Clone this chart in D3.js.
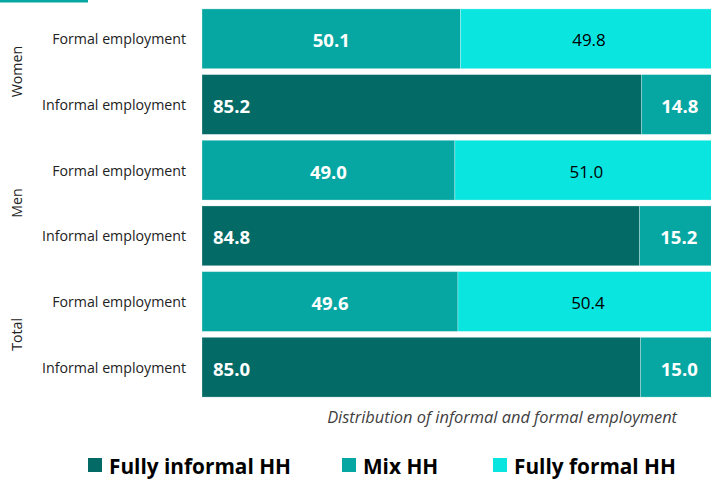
<!DOCTYPE html>
<html>
<head>
<meta charset="utf-8">
<script src="https://cdn.jsdelivr.net/npm/d3@7"></script>
<style>
  body { margin: 0; background: #fff; }
  svg { display: block; font-family: "Open Sans", sans-serif; }
</style>
</head>
<body>
<div id="chart"></div>
<script>
const groups = ["Women", "Men", "Total"];
const employmentTypes = ["Formal employment", "Informal employment"];
const seriesNames = ["Fully informal HH", "Mix HH", "Fully formal HH"];
// one value per row: Women formal, Women informal, Men formal, Men informal, Total formal, Total informal
const fullyInformal = [0, 85.2, 0, 84.8, 0, 85.0];
const mixHH = [50.1, 14.8, 49.0, 15.2, 49.6, 15.0];
const fullyFormal = [49.8, 0, 51.0, 0, 50.4, 0];
const seriesColors = ["#036a66", "#06a7a2", "#0be5e0"];
const axisTitle = "Distribution of informal and formal employment";

const width = 711, height = 479;

const rows = [];
groups.forEach((g, gi) => {
    employmentTypes.forEach((t, ti) => {
        const i = gi * employmentTypes.length + ti;
        rows.push({ key: g + "|" + t, group: g, type: t, values: [fullyInformal[i], mixHH[i], fullyFormal[i]] });
    });
});

const svg = d3.select("#chart").append("svg").attr("width", width).attr("height", height);

// leftover piece of the cropped title underline
svg.append("rect").attr("x", 0).attr("y", 0).attr("width", 88).attr("height", 2.5).attr("fill", "#06a7a2");

const x = d3.scaleLinear().domain([0, 100]).range([202, 718]);
const y = d3.scaleBand().domain(rows.map(d => d.key)).range([3, 403]).padding(0.09);

const stacked = rows.flatMap(r => {
    let acc = 0;
    return r.values.map((v, si) => {
        const seg = { row: r, series: si, v, x0: acc, x1: acc + v };
        acc += v;
        return seg;
    });
}).filter(d => d.v > 0);

svg.append("g").selectAll("rect").data(stacked).join("rect")
    .attr("x", d => x(d.x0))
    .attr("y", d => y(d.row.key))
    .attr("width", d => x(d.x1) - x(d.x0))
    .attr("height", y.bandwidth())
    .attr("fill", d => seriesColors[d.series])
    .attr("stroke", "#ffffff").attr("stroke-opacity", 0.35).attr("stroke-width", 0.8);

svg.append("g").selectAll("text").data(stacked).join("text")
    .attr("x", d => d.series === 0 ? x(d.x0) + 11 : (x(d.x0) + x(d.x1)) / 2)
    .attr("y", d => y(d.row.key) + y.bandwidth() / 2 + 1)
    .attr("text-anchor", d => d.series === 0 ? "start" : "middle")
    .attr("dominant-baseline", "central")
    .style("font-size", d => d.series === 2 ? "17px" : "18.5px")
    .style("font-weight", d => d.series === 2 ? 400 : 700)
    .style("fill", d => d.series === 2 ? "#000" : "#fff")
    .text(d => d3.format(".1f")(d.v));

// row labels
svg.append("g").selectAll("text").data(rows).join("text")
    .attr("x", 186)
    .attr("y", d => y(d.key) + y.bandwidth() / 2)
    .attr("text-anchor", "end")
    .attr("dominant-baseline", "central")
    .style("font-size", "14.2px")
    .style("fill", "#222")
    .text(d => d.type);

// group labels, rotated
svg.append("g").selectAll("text").data(groups).join("text")
    .attr("transform", g => {
        const keys = employmentTypes.map(t => g + "|" + t);
        const cy = (y(keys[0]) + y(keys[keys.length - 1]) + y.bandwidth()) / 2;
        return `translate(16,${cy}) rotate(-90)`;
    })
    .attr("text-anchor", "middle")
    .attr("dominant-baseline", "central")
    .style("font-size", "14.2px")
    .style("fill", "#222")
    .text(g => g);

svg.append("text")
    .attr("x", 677).attr("y", 416)
    .attr("text-anchor", "end")
    .attr("dominant-baseline", "central")
    .style("font-size", "16.4px").style("font-style", "italic")
    .style("fill", "#404040")
    .text(axisTitle);

// legend
const legendX = [88, 342, 493];
const legend = svg.append("g").selectAll("g").data(seriesNames).join("g")
    .attr("transform", (d, i) => `translate(${legendX[i]},458)`);
legend.append("rect").attr("width", 14).attr("height", 14).attr("fill", (d, i) => seriesColors[i]);
legend.append("text").attr("x", 21).attr("y", 7.5)
    .attr("dominant-baseline", "central")
    .style("font-size", "20.8px").style("font-weight", 700).style("fill", "#000")
    .text(d => d);
</script>
</body>
</html>
